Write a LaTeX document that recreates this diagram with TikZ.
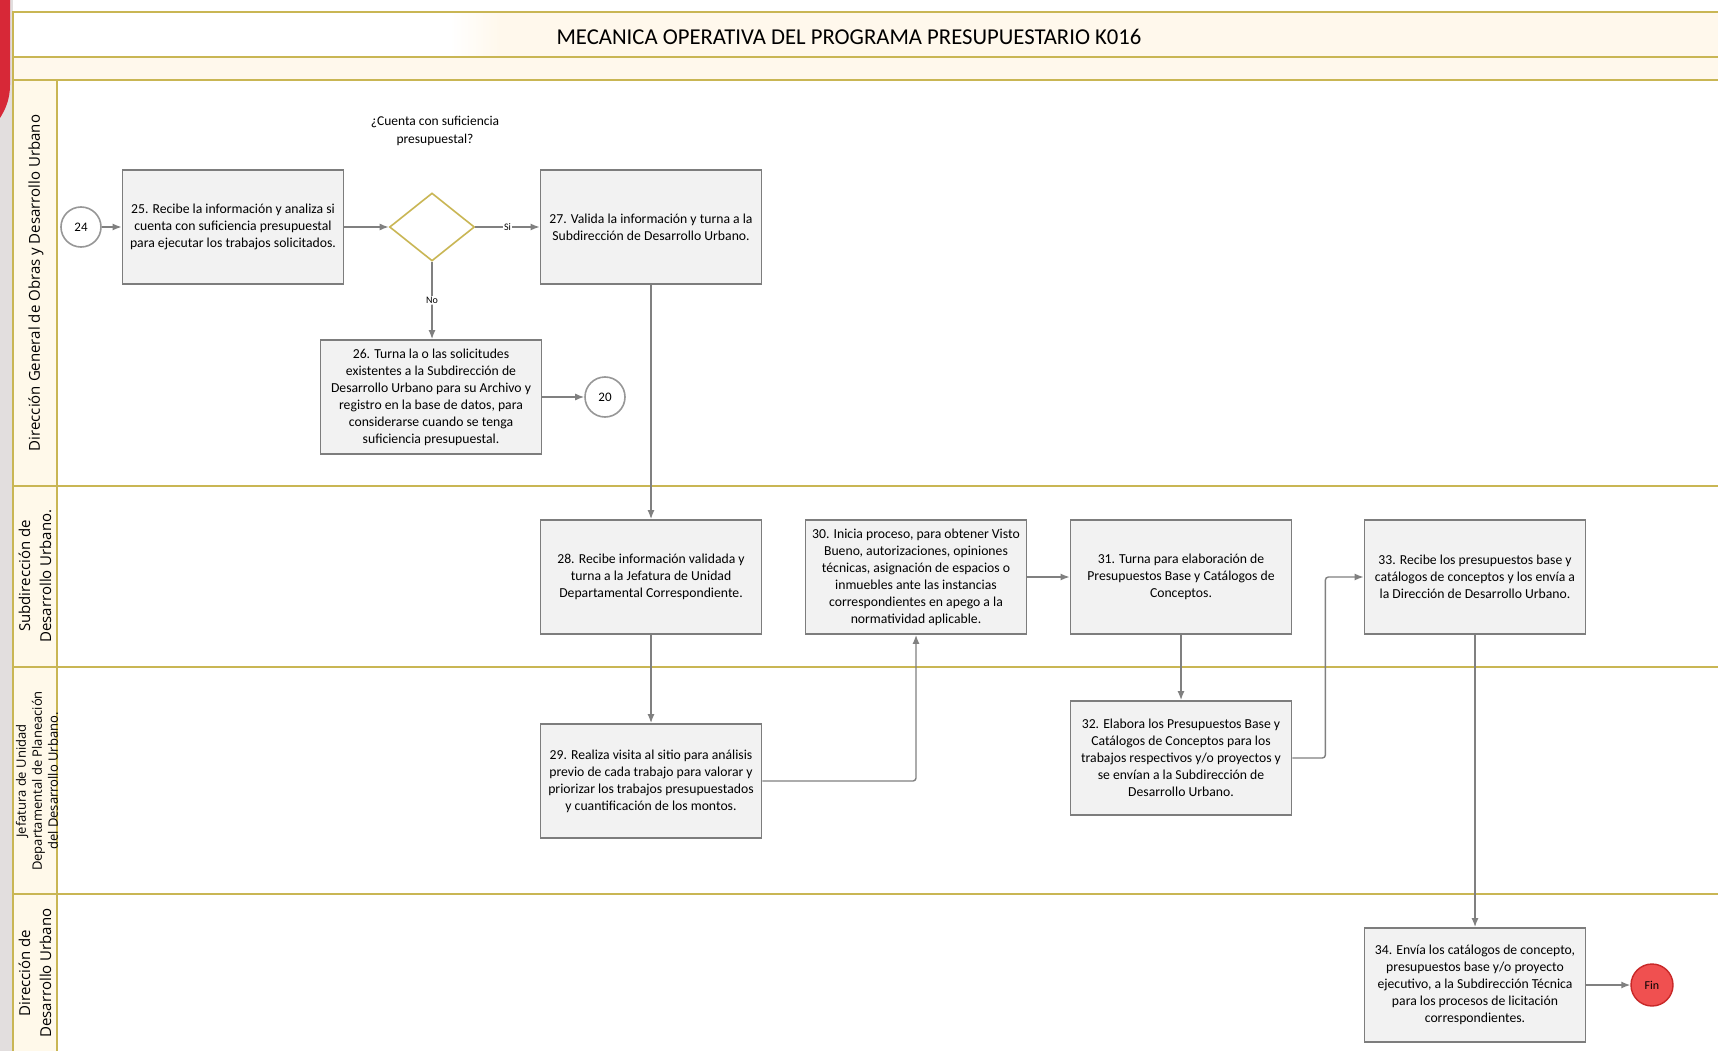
\documentclass[tikz,border=0pt]{standalone}
\usepackage{fontspec}
\setmainfont{Carlito}
\newfontfamily\lanefont{Open Sans}
\usetikzlibrary{arrows.meta,shapes.geometric}
\definecolor{gold}{RGB}{201,182,84}
\definecolor{cream}{RGB}{255,248,236}
\definecolor{labelbg}{RGB}{255,249,234}
\definecolor{boxfill}{RGB}{242,242,242}
\definecolor{boxdraw}{RGB}{125,125,125}
\definecolor{conn}{RGB}{128,128,128}
\definecolor{finred}{RGB}{240,80,80}
\definecolor{finborder}{RGB}{200,40,40}
\definecolor{leftred}{RGB}{215,40,55}
\definecolor{leftgrey}{RGB}{226,222,222}
\begin{document}
\begin{tikzpicture}[x=1pt,y=-1pt,
 procbox/.style={draw=boxdraw, fill=boxfill, line width=1.8pt, minimum width=221pt, minimum height=114pt, align=center, font=\fontsize{13.7}{17}\selectfont, inner sep=2pt},
 conncirc/.style={circle, draw=boxdraw!80, fill=white, line width=1.6pt, minimum size=40pt, inner sep=0pt, font=\fontsize{13}{15}\selectfont},
 finnode/.style={circle, draw=finborder, fill=finred, line width=1.4pt, minimum size=42pt, inner sep=0pt, font=\fontsize{12}{14}\selectfont},
 decision/.style={diamond, draw=gold, fill=white, line width=1.6pt, minimum width=85pt, minimum height=68pt, inner sep=0pt},
 flow/.style={draw=conn, line width=1.4pt, -{Latex[length=9pt,width=7pt]}, rounded corners=3pt},
 lanelabel/.style={rotate=90, align=center, font=\lanefont\fontsize{15}{21}\selectfont},
 lane/.style={draw=gold, line width=2pt},
 flowlabel/.style={fill=white, inner sep=1pt, font=\fontsize{10}{12}\selectfont}
]
\useasboundingbox (0,0) rectangle (1718,1051);
\fill[white] (0,0) rectangle (1718,1051);
% left slide remnants
\fill[leftgrey] (0,0) rectangle (13,1051);
\fill[leftred] (0,0) -- (10,0) -- (10,85) .. controls (10,100) and (5,110) .. (0,118) -- cycle;
% bands
\fill[cream] (13,12) rectangle (1718,80);
\fill[white] (14,13) rectangle (450,56);
\shade[left color=white,right color=cream] (450,13) rectangle (500,56);
\fill[labelbg] (13,80) rectangle (57,1051);
% frame lines
\draw[lane] (13,1051) -- (13,12) -- (1718,12);
\draw[lane] (13,57) -- (1718,57);
\draw[lane] (13,80) -- (1718,80);
\draw[lane] (57,80) -- (57,1051);
\draw[lane] (13,486) -- (1718,486);
\draw[lane] (13,667) -- (1718,667);
\draw[lane] (13,894) -- (1718,894);
% title
\node[font=\fontsize{22.7}{26}\selectfont] (title) at (849,37) {MECANICA OPERATIVA DEL PROGRAMA PRESUPUESTARIO K016};
% lane labels
\node[lanelabel] (l1) at (36,283) {Dirección General de Obras y Desarrollo Urbano};
\node[lanelabel] (l2) at (35,576) {Subdirección de\\Desarrollo Urbano.};
\node[lanelabel, font=\lanefont\fontsize{13}{16}\selectfont] (l3) at (37,781) {Jefatura de Unidad\\Departamental de Planeación\\del Desarrollo Urbano.};
\node[lanelabel] (l4) at (35,973) {Dirección de\\Desarrollo Urbano};
% nodes
\node[conncirc] (c24) at (81,227) {24};
\node[procbox] (n25) at (233,227) {25. Recibe la información y analiza si\\cuenta con suficiencia presupuestal\\para ejecutar los trabajos solicitados.};
\node[decision] (dec) at (432,227) {};
\node[align=center, font=\fontsize{13.5}{17.5}\selectfont] (q) at (435,131) {¿Cuenta con suficiencia\\presupuestal?};
\node[procbox] (n27) at (651,227) {27. Valida la información y turna a la\\Subdirección de Desarrollo Urbano.};
\node[procbox] (n26) at (431,397) {26. Turna la o las solicitudes\\existentes a la Subdirección de\\Desarrollo Urbano para su Archivo y\\registro en la base de datos, para\\considerarse cuando se tenga\\suficiencia presupuestal.};
\node[conncirc] (c20) at (605,397) {20};
\node[procbox] (n28) at (651,577) {28. Recibe información validada y\\turna a la Jefatura de Unidad\\Departamental Correspondiente.};
\node[procbox] (n30) at (916,577) {30. Inicia proceso, para obtener Visto\\Bueno, autorizaciones, opiniones\\técnicas, asignación de espacios o\\inmuebles ante las instancias\\correspondientes en apego a la\\normatividad aplicable.};
\node[procbox] (n31) at (1181,577) {31. Turna para elaboración de\\Presupuestos Base y Catálogos de\\Conceptos.};
\node[procbox] (n33) at (1475,577) {33. Recibe los presupuestos base y\\catálogos de conceptos y los envía a\\la Dirección de Desarrollo Urbano.};
\node[procbox] (n29) at (651,781) {29. Realiza visita al sitio para análisis\\previo de cada trabajo para valorar y\\priorizar los trabajos presupuestados\\y cuantificación de los montos.};
\node[procbox] (n32) at (1181,758) {32. Elabora los Presupuestos Base y\\Catálogos de Conceptos para los\\trabajos respectivos y/o proyectos y\\se envían a la Subdirección de\\Desarrollo Urbano.};
\node[procbox] (n34) at (1475,985) {34. Envía los catálogos de concepto,\\presupuestos base y/o proyecto\\ejecutivo, a la Subdirección Técnica\\para los procesos de licitación\\correspondientes.};
\node[finnode] (fin) at (1652,985) {Fin};
% connectors
\draw[flow] (c24) -- (n25);
\draw[flow] (n25) -- (dec);
\draw[flow] (dec.east) -- node[flowlabel]{Si} (n27.west);
\draw[flow] (dec.south) -- node[flowlabel]{No} (dec.south |- n26.north);
\draw[flow] (n26) -- (c20);
\draw[flow] (n27) -- (n28);
\draw[flow] (n28) -- (n29);
\draw[flow] (n29.east) -| (n30.south);
\draw[flow] (n30) -- (n31);
\draw[flow] (n31) -- (n32);
\draw[flow] (n32.east) -- ++(33,0) |- (n33.west);
\draw[flow] (n33) -- (n34);
\draw[flow] (n34) -- (fin);
\end{tikzpicture}
\end{document}
